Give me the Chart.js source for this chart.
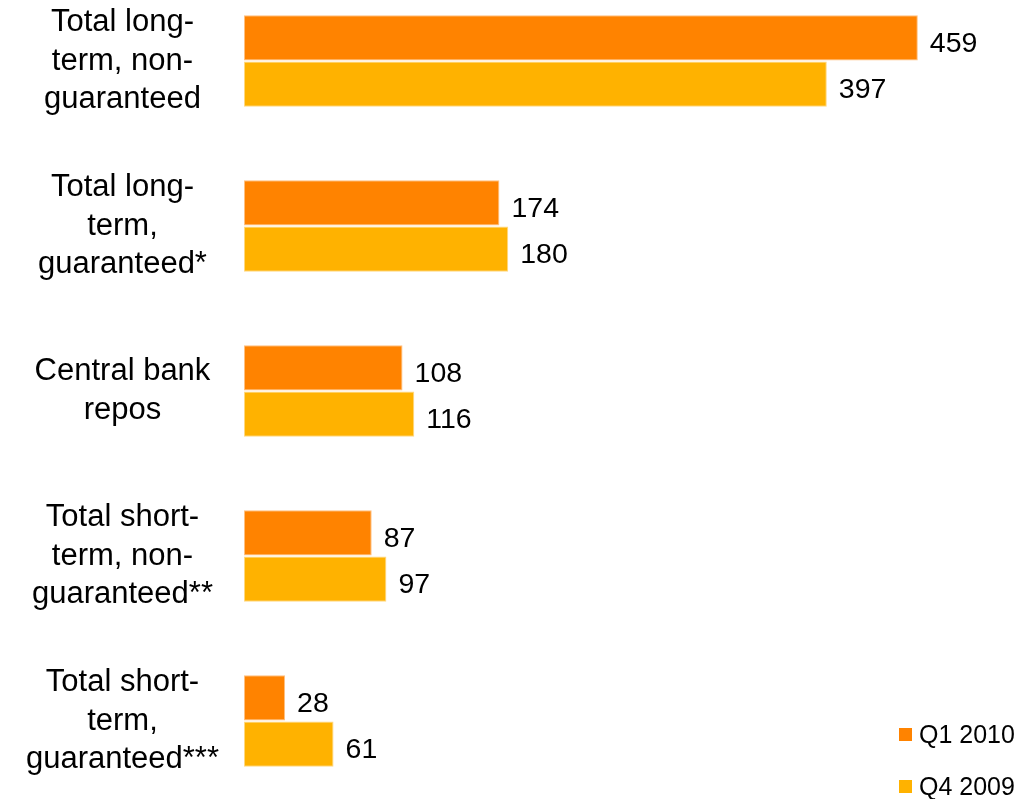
<!DOCTYPE html>
<html>
<head>
    <title>funding</title>
    <style>
        body { margin: 0; background: #fff; }
        #wrap { width: 1023px; height: 799px; }
    </style>
    <script src="https://cdn.jsdelivr.net/npm/chart.js@4.4.0/dist/chart.umd.min.js"></script>
</head>
<body>
    <div id="wrap"><canvas id="myChart"></canvas></div>
    <script>
        var categories = [
            ['Total long-', 'term, non-', 'guaranteed'],
            ['Total long-', 'term,', 'guaranteed*'],
            ['Central bank', 'repos'],
            ['Total short-', 'term, non-', 'guaranteed**'],
            ['Total short-', 'term,', 'guaranteed***']
        ];
        var seriesNames = ['Q1 2010', 'Q4 2009'];
        var q1_2010 = [459, 174, 108, 87, 28];
        var q4_2009 = [397, 180, 116, 97, 61];

        var fill = ['#FF8300', '#FFB200'];
        var edge = ['#FFC080', '#FFD880'];

        // numbers at the end of each bar
        var valueLabels = {
            id: 'valueLabels',
            afterDatasetsDraw(chart) {
                var ctx = chart.ctx;
                ctx.save();
                ctx.font = '28.5px "Liberation Sans", Arial, sans-serif';
                ctx.fillStyle = '#000';
                ctx.textBaseline = 'middle';
                chart.data.datasets.forEach(function (ds, i) {
                    chart.getDatasetMeta(i).data.forEach(function (bar, j) {
                        ctx.fillText(ds.data[j], bar.x + 12, bar.y + 6);
                    });
                });
                ctx.restore();
            }
        };

        // legend in the lower right corner
        var cornerLegend = {
            id: 'cornerLegend',
            afterDraw(chart) {
                var ctx = chart.ctx;
                ctx.save();
                ctx.font = '25px "Liberation Sans", Arial, sans-serif';
                ctx.textBaseline = 'middle';
                seriesNames.forEach(function (name, i) {
                    var y = 735 + i * 52;
                    ctx.fillStyle = fill[i];
                    ctx.fillRect(899, y - 7, 13, 13);
                    ctx.fillStyle = '#000';
                    ctx.fillText(name, 919, y + 1);
                });
                ctx.restore();
            }
        };

        new Chart(document.getElementById('myChart'), {
            type: 'bar',
            data: {
                labels: categories,
                datasets: [{
                    label: seriesNames[0],
                    data: q1_2010,
                    backgroundColor: fill[0],
                    borderColor: edge[0],
                    borderWidth: 1,
                    borderSkipped: false,
                    clip: false
                }, {
                    label: seriesNames[1],
                    data: q4_2009,
                    backgroundColor: fill[1],
                    borderColor: edge[1],
                    borderWidth: 1,
                    borderSkipped: false,
                    clip: false
                }]
            },
            options: {
                indexAxis: 'y',
                responsive: true,
                maintainAspectRatio: false,
                animation: false,
                categoryPercentage: 0.56,
                barPercentage: 0.98,
                layout: { padding: { top: 61, bottom: 78, left: 0, right: 45 } },
                plugins: {
                    legend: { display: false },
                    tooltip: { enabled: false }
                },
                scales: {
                    x: { display: false, min: 0, max: 500 },
                    y: {
                        offset: false,
                        grid: { display: false, drawTicks: false },
                        border: { display: false },
                        afterFit: function (s) {
                            s.width = 244;
                            s.paddingTop = 0;
                            s.paddingBottom = 0;
                        },
                        ticks: {
                            crossAlign: 'center',
                            padding: 25,
                            color: '#000',
                            font: { family: '"Liberation Sans", Arial, sans-serif', size: 31, lineHeight: 1.23 }
                        }
                    }
                }
            },
            plugins: [valueLabels, cornerLegend]
        });
    </script>
</body>
</html>
